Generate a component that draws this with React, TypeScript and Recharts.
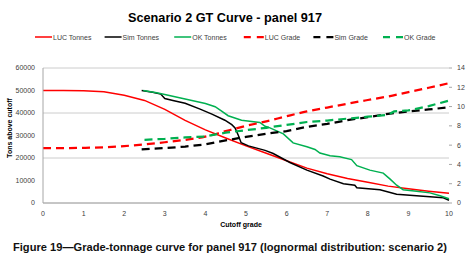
import React from "react";
import { LineChart, Line, XAxis, YAxis, CartesianGrid, Legend } from "recharts";

// ---- data ----
const xTicks = [0, 1, 2, 3, 4, 5, 6, 7, 8, 9, 10];
const tonnesTicks = [0, 10000, 20000, 30000, 40000, 50000, 60000];
const gradeTicks = [0, 2, 4, 6, 8, 10, 12, 14];

const lucCutoff = [0, 0.5, 1, 1.5, 2, 2.5, 3, 3.5, 4, 4.5, 5, 5.5, 6, 6.5, 7, 7.5, 8, 8.5, 9, 9.5, 10];
const lucTonnes = [50000, 50000, 49900, 49400, 47900, 45600, 41600, 36700, 32500, 28900, 25400, 22100, 18800, 15500, 13000, 10900, 9200, 7500, 6300, 5200, 4300];
const lucGrade = [5.7, 5.7, 5.72, 5.78, 5.9, 6.08, 6.3, 6.55, 6.88, 7.45, 8.0, 8.47, 9.0, 9.5, 9.9, 10.3, 10.68, 11.05, 11.5, 11.95, 12.43];

const simTonnesCutoff = [2.43, 2.7, 2.9, 3.0, 3.2, 3.5, 3.87, 4.16, 4.48, 4.65, 4.73, 4.81, 4.88, 5.06, 5.47, 5.67, 6.08, 6.5, 6.9, 7.07, 7.4, 7.68, 7.73, 8.3, 8.71, 9.2, 9.86, 10];
const simTonnes = [50000, 49200, 48400, 46400, 45600, 44300, 41700, 39500, 36800, 34800, 33400, 30100, 26800, 25400, 23400, 22000, 18000, 14600, 12000, 10600, 8600, 7900, 6800, 5900, 3900, 3200, 2300, 1200];

const okTonnesCutoff = [2.47, 2.8, 3.0, 3.5, 4.0, 4.24, 4.4, 4.56, 4.89, 5.34, 5.47, 5.59, 5.92, 6.16, 6.5, 6.7, 6.82, 7.07, 7.31, 7.6, 7.73, 8.05, 8.38, 8.55, 8.71, 8.87, 9.2, 9.53, 9.78, 10];
const okTonnes = [50000, 49000, 48200, 46200, 44200, 42800, 40800, 38800, 36800, 35800, 34100, 33400, 30700, 26700, 25000, 23800, 22200, 21000, 20600, 19300, 16600, 14600, 13300, 10600, 7900, 5900, 5200, 4500, 3200, 1900];

const simGradeCutoff = [2.43, 3, 3.5, 4, 4.5, 5, 5.5, 6, 6.5, 7, 7.5, 8, 8.5, 9, 9.5, 10];
const simGrade = [5.55, 5.7, 5.85, 6.08, 6.5, 6.85, 7.18, 7.45, 7.9, 8.2, 8.6, 8.9, 9.25, 9.5, 9.7, 9.93];

const okGradeCutoff = [2.5, 3, 3.5, 4, 4.5, 5, 5.5, 6, 6.5, 7, 7.5, 8, 8.5, 8.65, 9, 9.5, 10];
const okGrade = [6.55, 6.65, 6.8, 6.9, 7.3, 7.55, 7.8, 8.1, 8.4, 8.55, 8.75, 8.95, 9.15, 9.5, 9.6, 10.05, 10.62];

const seriesNames = ["LUC Tonnes", "Sim Tonnes", "OK Tonnes", "LUC Grade", "Sim Grade", "OK Grade"];
const seriesColors = ["#FF0000", "#000000", "#00B050", "#FF0000", "#000000", "#00B050"];

const toRows = (xs: number[], ys: number[]) => xs.map((x, i) => ({ x, y: ys[i] }));

const lucTonnesData = toRows(lucCutoff, lucTonnes);
const lucGradeData = toRows(lucCutoff, lucGrade);
const simTonnesData = toRows(simTonnesCutoff, simTonnes);
const okTonnesData = toRows(okTonnesCutoff, okTonnes);
const simGradeData = toRows(simGradeCutoff, simGrade);
const okGradeData = toRows(okGradeCutoff, okGrade);

const FONT = "'Liberation Sans', Arial, sans-serif";
const tickStyle = { fontSize: 7, fill: "#404040", fontFamily: FONT };

const LegendContent = () => (
  <svg width={470} height={14} style={{ display: "block" }}>
    {seriesNames.map((name, i) => {
      const x0 = 35 + i * 69.6;
      const dashed = i >= 3;
      const sw = dashed ? 20 : 17;
      return (
        <g key={name}>
          <line
            x1={x0}
            x2={x0 + sw}
            y1={7}
            y2={7}
            stroke={seriesColors[i]}
            strokeWidth={dashed ? 2.25 : 1.5}
            strokeDasharray={dashed ? "7 6" : undefined}
          />
          <text x={x0 + sw + 1} y={9.5} fontSize={7} fill="#404040" fontFamily={FONT}>
            {name}
          </text>
        </g>
      );
    })}
  </svg>
);

export default function App() {
  return (
    <div style={{ position: "absolute", left: 0, top: 0, width: 470, height: 271, background: "#fff" }}>
      <LineChart width={470} height={271} margin={{ top: 54, right: 0, left: 0, bottom: 48 }}>
        <CartesianGrid vertical={false} stroke="#BFBFBF" strokeWidth={0.8} yAxisId="t" />
        <XAxis
          dataKey="x"
          type="number"
          domain={[0, 10]}
          ticks={xTicks}
          height={20}
          tick={tickStyle}
          tickLine={false}
          tickSize={6}
          tickMargin={2}
          axisLine={{ stroke: "#A6A6A6" }}
          allowDuplicatedCategory={false}
        />
        <YAxis
          yAxisId="t"
          orientation="left"
          width={43}
          domain={[0, 60000]}
          ticks={tonnesTicks}
          tick={tickStyle}
          tickLine={false}
          tickSize={6}
          tickMargin={2}
          axisLine={{ stroke: "#A6A6A6" }}
        />
        <YAxis
          yAxisId="g"
          orientation="right"
          width={21}
          domain={[0, 14]}
          ticks={gradeTicks}
          tick={{ ...tickStyle, textAnchor: "start" }}
          tickLine={{ stroke: "#A6A6A6" }}
          tickSize={3}
          tickMargin={5}
          axisLine={false}
        />
        <Legend
          verticalAlign="top"
          content={() => <LegendContent />}
          wrapperStyle={{ top: 30, left: 0, width: 470, height: 14 }}
        />
        <Line yAxisId="t" data={lucTonnesData} dataKey="y" name={seriesNames[0]} stroke={seriesColors[0]} strokeWidth={1.5} dot={false} isAnimationActive={false} />
        <Line yAxisId="t" data={simTonnesData} dataKey="y" name={seriesNames[1]} stroke={seriesColors[1]} strokeWidth={1.5} dot={false} isAnimationActive={false} type="linear" />
        <Line yAxisId="t" data={okTonnesData} dataKey="y" name={seriesNames[2]} stroke={seriesColors[2]} strokeWidth={1.5} dot={false} isAnimationActive={false} type="linear" />
        <Line yAxisId="g" data={lucGradeData} dataKey="y" name={seriesNames[3]} stroke={seriesColors[3]} strokeWidth={2.25} strokeDasharray="8 5" dot={false} isAnimationActive={false} type="monotone" />
        <Line yAxisId="g" data={simGradeData} dataKey="y" name={seriesNames[4]} stroke={seriesColors[4]} strokeWidth={2.25} strokeDasharray="8 5" dot={false} isAnimationActive={false} type="linear" />
        <Line yAxisId="g" data={okGradeData} dataKey="y" name={seriesNames[5]} stroke={seriesColors[5]} strokeWidth={2.25} strokeDasharray="8 5" dot={false} isAnimationActive={false} type="linear" />
      </LineChart>
      <svg width={470} height={271} style={{ position: "absolute", left: 0, top: 0, pointerEvents: "none" }}>
        <text x={225} y={22} textAnchor="middle" fontSize={12.7} fontWeight="bold" fill="#000" fontFamily={FONT}>
          Scenario 2 GT Curve - panel 917
        </text>
        <text
          x={0}
          y={0}
          transform="translate(11.5,128) rotate(-90)"
          textAnchor="middle"
          fontSize={7}
          fontWeight="bold"
          fill="#000"
          fontFamily={FONT}
        >
          Tons  above cutoff
        </text>
        <text x={241} y={226.5} textAnchor="middle" fontSize={7} fontWeight="bold" fill="#000" fontFamily={FONT}>
          Cutoff grade
        </text>
        <text x={13} y={251} fontSize={10.5} fontWeight="bold" fill="#111" fontFamily={FONT} textLength={434} lengthAdjust="spacingAndGlyphs">
          Figure 19—Grade-tonnage curve for panel 917 (lognormal distribution: scenario 2)
        </text>
      </svg>
    </div>
  );
}
